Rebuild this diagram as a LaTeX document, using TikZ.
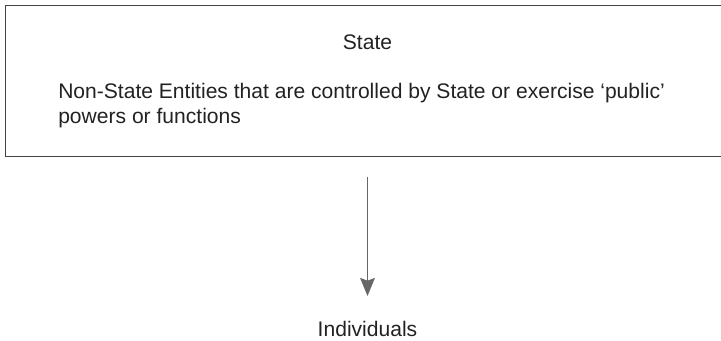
\documentclass[tikz,border=0pt]{standalone}
\usepackage{fontspec}
\setmainfont{Liberation Sans}
\usetikzlibrary{arrows.meta}
\definecolor{ink}{HTML}{222222}
\definecolor{frame}{HTML}{444444}
\definecolor{arrowgray}{HTML}{666666}
\begin{document}
\begin{tikzpicture}[x=0.75pt,y=-0.75pt,
  label text/.style={font=\fontsize{15.8pt}{18.75pt}\selectfont, text=ink, inner sep=0pt},
  frame box/.style={draw=frame, line width=1.1pt, inner sep=0pt},
  flow arrow/.style={draw=arrowgray, line width=1.4pt,
    -{Stealth[length=13.5pt, width=11pt, inset=2pt]}}]
  \useasboundingbox (0,0) rectangle (721,340);
  % outer box holding the two upper labels
  \node[frame box, minimum width=716.5*0.75pt, minimum height=151*0.75pt, anchor=north west]
    (box) at (4.5,5) {};
  \node[label text, anchor=base] (state) at (367.5,49) {State};
  % the base anchor of a two-line node sits on its last line
  \node[label text, align=left, anchor=base west] (nonstate) at (58,123)
    {Non-State Entities that are controlled by State or exercise ‘public’\\powers or functions};
  \node[label text, anchor=base] (ind) at (367.5,336) {Individuals};
  % downward connector
  \coordinate (a0) at (367.5,177);
  \coordinate (a1) at (367.5,296);
  \draw[flow arrow] (a0) -- (a1);
\end{tikzpicture}
\end{document}
